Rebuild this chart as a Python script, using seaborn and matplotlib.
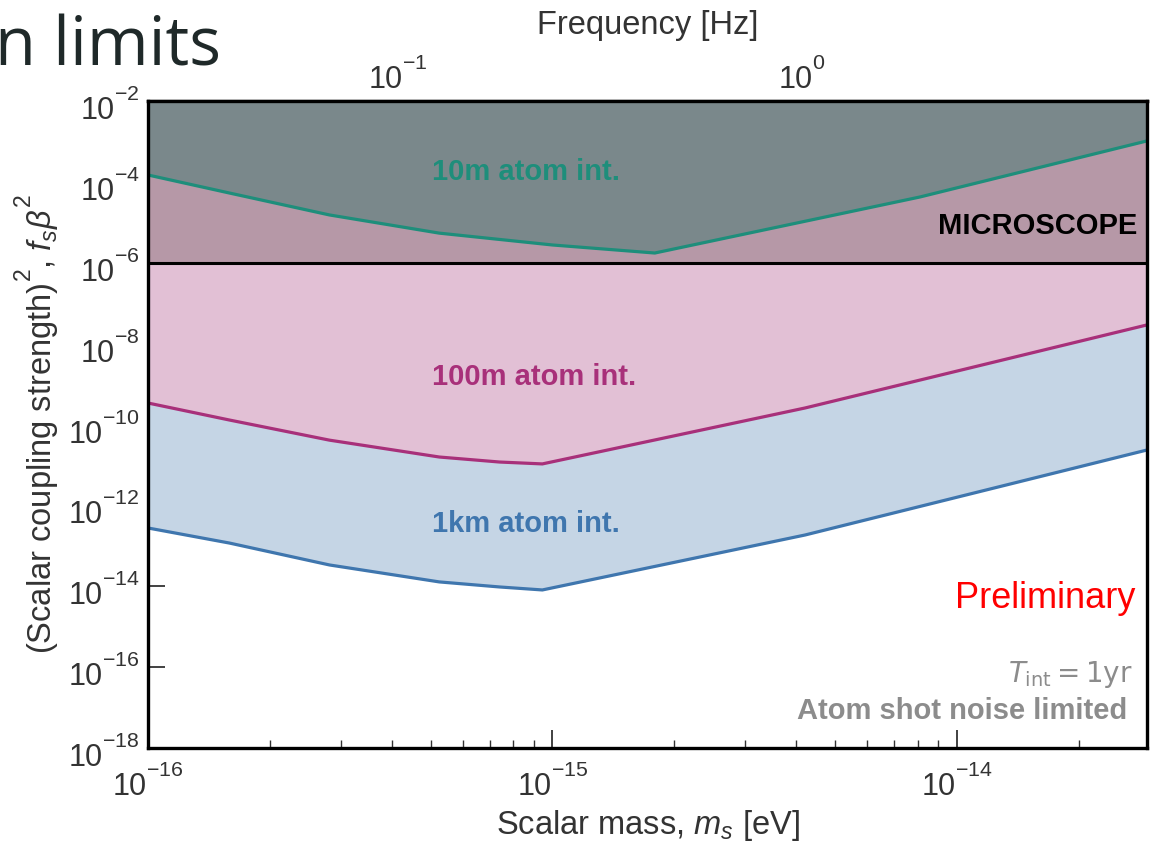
import numpy as np
import pandas as pd
import matplotlib
matplotlib.use("Agg")
import matplotlib.pyplot as plt
import matplotlib.ticker as mticker
import matplotlib.transforms as mtransforms
import seaborn as sns

# Projected sensitivity curves (scalar mass in eV, coupling f_s * beta^2)
mass_10m = [1.0e-16, 1.59e-16, 2.81e-16, 5.25e-16, 1.0e-15, 1.79e-15, 8.1e-15, 2.95e-14]
coupling_10m = [1.48e-4, 5.3e-5, 1.52e-5, 5.4e-6, 2.75e-6, 1.74e-6, 4.23e-5, 1.03e-3]

mass_100m = [1.0e-16, 1.59e-16, 2.81e-16, 5.25e-16, 7.4e-16, 9.44e-16, 4.21e-15, 2.95e-14]
coupling_100m = [3.4e-10, 1.29e-10, 4.1e-11, 1.57e-11, 1.18e-11, 1.06e-11, 2.56e-10, 2.9e-8]

mass_1km = [1.0e-16, 1.59e-16, 2.81e-16, 5.25e-16, 7.4e-16, 9.44e-16, 4.21e-15, 2.95e-14]
coupling_1km = [2.76e-13, 1.17e-13, 3.36e-14, 1.28e-14, 9.6e-15, 8.1e-15, 1.85e-13, 2.34e-11]

detectors = ["10m atom int.", "100m atom int.", "1km atom int."]
microscope_limit = 1e-6

mass_range = (1e-16, 2.95e-14)
coupling_range = (1e-18, 1e-2)
y_ticks = [1e-18, 1e-16, 1e-14, 1e-12, 1e-10, 1e-8, 1e-6, 1e-4, 1e-2]

H_PLANCK_EV_S = 4.135667e-15

line_colors = {"10m atom int.": "#1e8e7b", "100m atom int.": "#a8307a", "1km atom int.": "#3f76ae"}

sns.set_theme(style="ticks")
plt.rcParams["font.family"] = ["Liberation Sans", "DejaVu Sans"]
plt.rcParams["mathtext.fontset"] = "custom"
plt.rcParams["mathtext.rm"] = "Liberation Sans"
plt.rcParams["mathtext.it"] = "Liberation Sans:italic"
plt.rcParams["mathtext.bf"] = "Liberation Sans:bold"
plt.rcParams["text.color"] = "#333333"
plt.rcParams["axes.labelcolor"] = "#333333"

# Raise superscripts (exponents sit just above the digits, classic style)
try:
    import matplotlib._mathtext as _mt

    class _HighSuperscripts(_mt.FontConstantsBase):
        sup1 = 1.1

    _mt._font_constant_mapping["Liberation Sans"] = _HighSuperscripts
except Exception:
    pass

df = pd.concat([
    pd.DataFrame({"mass": mass_10m, "coupling": coupling_10m, "detector": detectors[0]}),
    pd.DataFrame({"mass": mass_100m, "coupling": coupling_100m, "detector": detectors[1]}),
    pd.DataFrame({"mass": mass_1km, "coupling": coupling_1km, "detector": detectors[2]}),
], ignore_index=True)

W, H = 1155, 843


def fx(px):
    return px / W


def fy(py):
    return 1 - py / H


fig = plt.figure(figsize=(W / 100, H / 100), dpi=100)
ax = fig.add_axes([fx(148), fy(748), (1147 - 148) / W, (748 - 101) / H])
ax.set_xscale("log")
ax.set_yscale("log")
ax.set_xlim(*mass_range)
ax.set_ylim(*coupling_range)

top = coupling_range[1]
# Shaded regions, layered from the most sensitive upwards
ax.fill_between(mass_1km, coupling_1km, top, color="#c5d5e5", lw=0, zorder=1)
ax.fill_between(mass_100m, coupling_100m, top, color="#e2c0d5", lw=0, zorder=1.1)
ax.axhspan(microscope_limit, top, color="#b698a7", lw=0, zorder=1.2)
ax.fill_between(mass_10m, coupling_10m, top, color="#7a888b", lw=0, zorder=1.3)
ax.axhline(microscope_limit, color="black", lw=2.2, zorder=3)

sns.lineplot(data=df, x="mass", y="coupling", hue="detector", palette=line_colors,
             sort=False, estimator=None, legend=False, linewidth=2.3, ax=ax, zorder=4)

# Labels inside the plot
label_kw = dict(fontsize=21, fontweight="bold", ha="left", va="center", zorder=6)
fig.text(fx(432), fy(172), detectors[0], color=line_colors[detectors[0]], **label_kw)
fig.text(fx(432), fy(377), detectors[1], color=line_colors[detectors[1]], **label_kw)
fig.text(fx(432), fy(524), detectors[2], color=line_colors[detectors[2]], **label_kw)

fig.text(fx(1137), fy(226), "MICROSCOPE", color="black", fontsize=21,
         fontweight="bold", ha="right", va="center", zorder=6)
fig.text(fx(1135), fy(598), "Preliminary", color="red", fontsize=26,
         ha="right", va="center", zorder=6)
fig.text(fx(1133), fy(675), r"$T_{\rm int} = 1\mathrm{yr}$", color="#8c8c8c",
         fontsize=20, ha="right", va="center", math_fontfamily="dejavusans", zorder=6)
fig.text(fx(1127), fy(711), "Atom shot noise limited", color="#8c8c8c",
         fontsize=21, fontweight="bold", ha="right", va="center", zorder=6)

# Axes styling
for side in ["left", "right", "top", "bottom"]:
    ax.spines[side].set_linewidth(2.4)
    ax.spines[side].set_color("black")
    ax.spines[side].set_zorder(10)

ax.yaxis.set_major_locator(mticker.FixedLocator(y_ticks))
ax.yaxis.set_major_formatter(mticker.LogFormatterMathtext())
ax.yaxis.set_minor_locator(mticker.NullLocator())
ax.xaxis.set_major_locator(mticker.LogLocator(base=10))
ax.xaxis.set_minor_locator(mticker.LogLocator(base=10, subs=np.arange(2, 10)))
ax.xaxis.set_minor_formatter(mticker.NullFormatter())

ax.tick_params(axis="x", which="major", direction="in", length=13, width=1.3,
               bottom=True, top=False, labelsize=22, pad=12, colors="#333333")
ax.tick_params(axis="x", which="minor", direction="in", length=6, width=1.0,
               bottom=True, top=False, colors="#333333")
ax.tick_params(axis="y", which="major", direction="in", length=12, width=1.3,
               left=True, right=False, labelsize=22, pad=6, colors="#333333")

# Centre each y tick label block slightly below its tick
y_shift = mtransforms.ScaledTranslation(0, -7 / 100, fig.dpi_scale_trans)
for lab in ax.get_yticklabels():
    lab.set_va("center")
    lab.set_transform(lab.get_transform() + y_shift)

ax.set_xlabel(r"Scalar mass, $m_s$ [eV]", fontsize=23.5, labelpad=4)
ax.set_ylabel(r"(Scalar coupling strength)$^2$, $f_s\beta^2$", fontsize=23.5, labelpad=4)

secax = ax.secondary_xaxis("top", functions=(lambda m: m / H_PLANCK_EV_S,
                                             lambda f: f * H_PLANCK_EV_S))
secax.xaxis.set_major_locator(mticker.LogLocator(base=10))
secax.xaxis.set_minor_locator(mticker.LogLocator(base=10, subs=np.arange(2, 10)))
secax.xaxis.set_minor_formatter(mticker.NullFormatter())
secax.xaxis.set_major_formatter(mticker.LogFormatterMathtext())
secax.tick_params(axis="x", which="major", direction="in", length=12, width=1.3,
                  labelsize=22, pad=3.5, colors="#333333")
secax.tick_params(axis="x", which="minor", direction="in", length=6, width=1.0,
                  colors="#333333")
secax.spines["top"].set_linewidth(2.4)
secax.spines["top"].set_color("black")
secax.set_xlabel("Frequency [Hz]", fontsize=23.5, labelpad=17)

# Slide heading, partly cut off at the left edge
fig.text(-0.004, fy(65), "n limits", fontsize=48, family=["Open Sans", "DejaVu Sans"],
         color="#1f2929", ha="left", va="baseline")

fig.savefig("out.png", dpi=100)
